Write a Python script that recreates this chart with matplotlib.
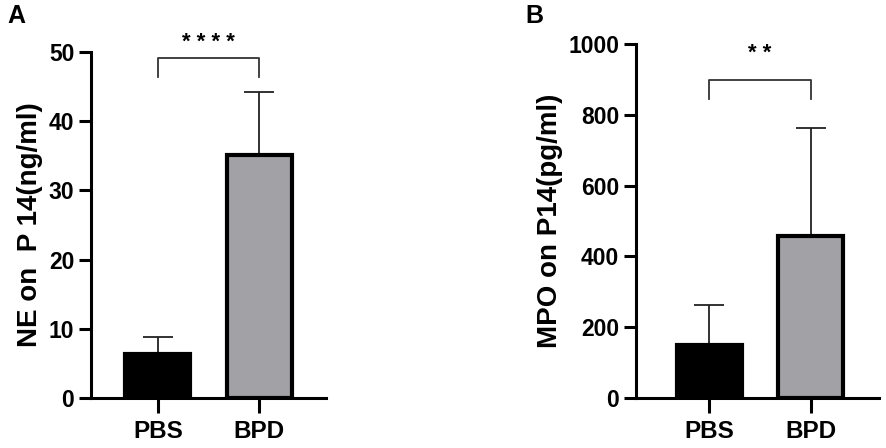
import numpy as np
import matplotlib.pyplot as plt

plt.rcParams['font.family'] = ['Liberation Sans', 'DejaVu Sans']
plt.rcParams['font.weight'] = 'bold'

groups = ['PBS', 'BPD']
ne_mean = [6.4, 35.1]
ne_sd = [2.4, 9.1]
mpo_mean = [150, 458]
mpo_sd = [113, 305]
colors = ['#000000', '#a2a2a6']

fig = plt.figure(figsize=(8.86, 4.48), dpi=100)
W, H = 886, 448


def panel(rect, means, sds, ylim, yticks, ylabel, xlim, bracket, stars, letter, letter_xy):
    l, b, r, t = rect
    ax = fig.add_axes([l / W, 1 - b / H, (r - l) / W, (b - t) / H])
    x = np.arange(len(groups))
    ax.bar(x, means, width=0.64, color=colors, edgecolor='black', linewidth=3, zorder=2)
    ax.errorbar(x, means, yerr=[np.zeros(len(sds)), sds], fmt='none', ecolor='#222222',
                elinewidth=1.3, capsize=11, capthick=1.3, zorder=1)
    ax.set_xlim(*xlim)
    ax.set_ylim(*ylim)
    ax.set_yticks(yticks)
    ax.set_xticks(x)
    ax.set_xticklabels(groups, fontsize=17.5, fontweight='bold')
    ax.tick_params(axis='y', labelsize=16.5, width=2.2, length=9, pad=3)
    ax.tick_params(axis='x', width=2.2, length=11, pad=5)
    for lab in ax.get_yticklabels():
        lab.set_fontweight('bold')
    for s in ['top', 'right']:
        ax.spines[s].set_visible(False)
    for s in ['left', 'bottom']:
        ax.spines[s].set_linewidth(2.2)
    ax.set_ylabel(ylabel, fontsize=20, fontweight='bold', labelpad=4)
    btop, bleg = bracket
    ax.plot([0, 0, 1, 1], [bleg, btop, btop, bleg], color='#333333', lw=1.3, clip_on=False)
    ax.text(0.5, stars[1], stars[0], ha='center', va='center', fontsize=16,
            fontweight='bold', clip_on=False)
    fig.text(letter_xy[0] / W, 1 - letter_xy[1] / H, letter, fontsize=18,
             fontweight='bold', ha='left', va='center')
    return ax


panel((91, 398, 326, 52), ne_mean, ne_sd, (0, 50), [0, 10, 20, 30, 40, 50],
      'NE on  P 14(ng/ml)', (-0.66, 1.66), (49.1, 46.4), ('* * * *', 51.4), 'A', (7, 16))
panel((636, 398, 879, 44), mpo_mean, mpo_sd, (0, 1000), [0, 200, 400, 600, 800, 1000],
      'MPO on P14(pg/ml)', (-0.72, 1.67), (898, 845), ('* *', 972), 'B', (525, 16))

fig.savefig('out.png', dpi=100)
